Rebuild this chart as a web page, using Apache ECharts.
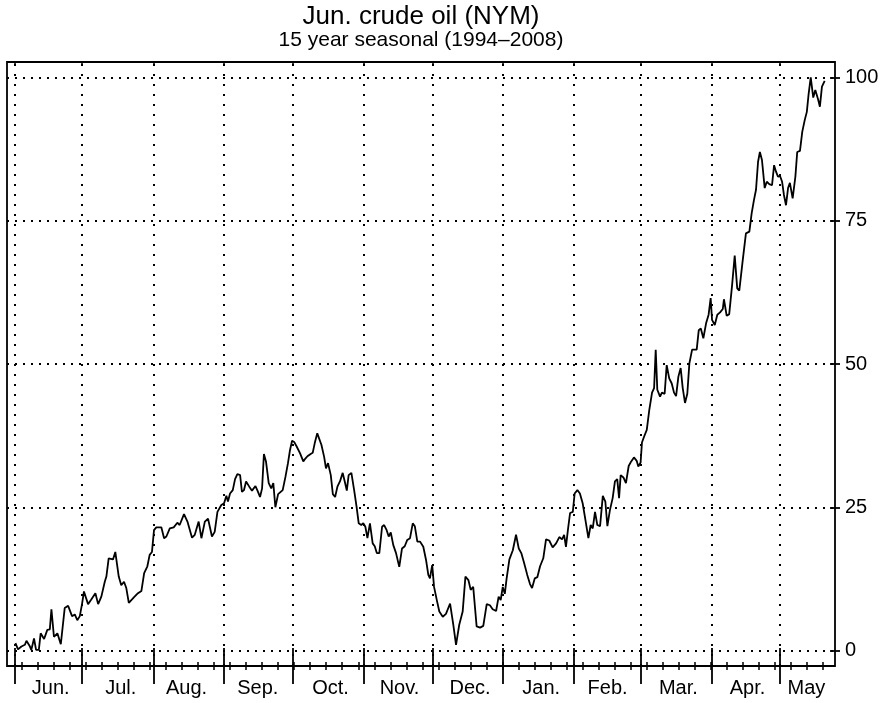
<!DOCTYPE html>
<html>
<head>
<meta charset="utf-8">
<script src="https://cdn.jsdelivr.net/npm/echarts@6/dist/echarts.min.js"></script>
<style>
html,body{margin:0;padding:0;background:#fff;}
#chart{width:887px;height:703px;}
</style>
</head>
<body>
<div id="chart"></div>
<script>
// x values are days since 1 Jun; y values are the seasonal index 0-100
const days = [
  0.4,1.5,3.0,4.5,5.2,6.6,7.3,8.5,9.4,10.6,
  11.4,12.9,14.3,15.4,16.1,17.2,18.7,20.2,21.9,23.4,
  25.1,26.3,27.4,28.5,29.5,30.3,32.1,33.5,35.3,36.5,
  37.9,39.4,40.1,41.1,43.0,44.0,45.5,46.6,47.8,48.8,
  49.9,50.7,52.2,53.9,55.4,56.6,58.0,59.0,60.0,60.9,
  61.9,64.1,65.3,66.3,67.8,69.5,71.1,72.1,74.0,75.5,
  77.5,78.7,80.4,81.6,83.1,84.5,86.2,87.4,88.6,90.3,
  91.5,92.5,93.2,
  94.1,95.3,96.3,97.3,98.5,99.3,100.2,101.1,102.5,103.7,
  105.2,106.0,107.2,108.1,108.9,109.8,111.0,112.1,113.0,113.9,
  115.1,115.9,117.1,118.3,119.4,120.3,121.2,122.1,123.2,124.7,
  126.1,127.0,127.9,129.3,130.2,131.1,132.2,134.0,135.2,136.0,
  136.9,138.1,139.0,140.0,141.0,142.1,143.3,144.2,145.1,145.9,
  147.1,148.3,149.4,150.3,151.4,152.3,153.2,154.1,155.2,156.4,
  157.3,158.2,159.3,160.5,161.4,162.5,163.4,164.3,165.4,166.6,
  168.0,169.2,170.4,171.5,172.7,173.9,174.8,175.9,177.1,
  178.5,179.7,180.7,181.4,182.4,183.2,184.4,185.5,187.0,188.4,
  190.2,191.6,192.8,194.2,195.7,196.9,198.2,199.2,200.3,201.8,
  203.3,204.7,206.2,207.6,208.8,210.3,211.4,212.3,213.2,214.1,
  214.9,216.1,217.6,219.0,220.2,221.3,222.5,223.9,225.1,226.0,
  227.2,228.3,229.5,230.9,232.1,233.5,235.0,236.5,237.9,239.1,
  240.0,240.8,241.7,242.6,243.8,244.6,245.8,246.9,248.1,249.3,
  250.6,251.6,252.5,253.5,254.5,255.7,256.9,258.0,258.9,260.0,
  261.2,262.2,263.2,264.0,264.7,265.9,267.0,268.2,269.3,270.5,
  271.7,272.4,
  273.4,274.0,274.9,276.1,277.2,278.4,279.3,280.0,280.7,281.9,
  282.7,283.9,284.8,285.9,287.0,288.0,288.9,289.9,290.9,291.8,
  292.8,293.8,294.7,295.9,296.7,297.9,298.8,299.7,300.8,302.0,
  303.1,304.0,304.6,305.8,306.9,308.1,309.3,309.8,311.0,312.1,
  313.3,314.5,315.6,316.5,
  318.0,319.4,320.9,321.9,322.9,323.8,324.7,325.5,326.4,327.6,
  328.5,329.6,330.8,331.7,332.5,333.4,334.3,335.2,336.0,336.9,
  337.8,338.6,339.8,341.0,341.8,343.0,344.0,345.1,346.0,346.8,
  347.7,348.8,349.7,350.9,351.7,352.6,353.8
];
const values = [
  1.3,0.2,0.7,1.0,1.7,0.8,0.1,2.1,0.1,0.1,
  3.0,2.0,3.6,3.7,7.2,2.4,3.0,1.1,7.4,7.8,
  6.0,6.3,5.3,6.0,8.2,10.3,8.1,8.9,10.0,8.1,
  9.4,12.0,12.9,16.1,15.9,17.2,12.9,11.4,12.0,10.9,
  8.3,8.2,9.3,10.0,10.4,13.5,14.7,16.7,17.2,21.0,
  21.5,21.5,19.6,19.9,21.3,21.5,22.3,21.9,23.8,22.5,
  19.7,20.2,22.5,19.6,22.5,23.0,19.9,20.7,24.2,25.4,
  25.7,27.0,26.0,
  27.4,28.0,29.9,30.8,30.6,27.7,28.0,29.5,28.6,27.9,
  28.7,28.0,26.8,28.3,34.3,33.0,29.2,28.3,29.2,25.0,
  27.3,27.5,28.0,30.3,32.7,35.0,36.6,36.4,35.6,34.4,
  33.0,33.5,33.9,34.3,34.5,36.2,37.9,35.9,33.8,31.8,
  32.7,30.6,27.3,26.8,28.6,29.5,31.0,29.5,27.9,30.6,
  31.0,28.0,25.0,22.2,21.9,22.2,21.6,19.6,22.2,18.7,
  18.2,17.0,17.0,21.6,21.9,21.0,19.9,20.6,18.4,17.0,
  14.6,17.8,18.2,19.3,19.6,22.2,21.7,19.0,19.0,
  18.1,15.8,13.2,12.6,14.9,11.1,8.8,6.8,5.9,6.4,
  8.2,4.5,1.0,4.5,6.8,12.9,12.3,10.6,11.1,4.2,
  4.0,4.3,8.1,7.9,7.2,6.9,9.4,8.8,11.1,9.9,
  12.6,15.9,17.5,20.2,17.8,17.0,15.3,13.2,11.6,10.9,
  12.6,12.8,14.7,16.1,19.4,19.2,18.0,18.7,19.8,19.4,
  20.2,18.1,21.2,24.0,24.2,27.4,28.0,27.4,25.7,22.8,
  19.6,21.9,21.3,24.2,21.9,21.7,27.0,26.0,21.7,24.5,
  26.6,29.5,29.9,26.6,30.6,30.2,29.2,32.2,33.0,33.7,
  33.1,32.1,
  32.8,36.3,37.3,38.5,42.0,45.0,45.8,52.5,45.5,44.3,
  45.0,44.8,49.8,47.5,46.6,45.0,44.4,47.8,49.3,45.8,
  43.2,44.8,50.1,52.5,52.7,52.5,55.9,56.2,54.5,57.1,
  58.6,61.5,57.7,56.8,58.6,59.0,59.6,61.3,58.4,58.7,
  63.5,68.9,63.2,62.8,
  68.1,72.8,73.1,76.3,78.6,80.4,85.3,87.0,85.6,80.7,
  81.8,81.4,81.2,84.7,83.6,82.7,82.8,81.8,79.5,77.7,
  80.7,81.6,78.9,82.7,87.0,87.2,90.5,92.6,94.0,97.2,
  100.0,96.5,97.8,96.2,94.9,98.4,99.4
];
const monthNames = ['Jun.','Jul.','Aug.','Sep.','Oct.','Nov.','Dec.','Jan.','Feb.','Mar.','Apr.','May'];
const monthStarts = [0.2,29.5,60.7,91.5,121.6,152.6,182.5,213.4,244.3,273.4,304.5,334.2];
const monthLabelAt = [15.8,46.4,75.1,106.2,138.0,168.1,198.9,230.0,259.0,289.9,320.1,345.8];
const firstWeekTick = 3.1;
const yTicks = [0,25,50,75,100];
const titleText = 'Jun. crude oil (NYM)';
const subtitleText = '15 year seasonal (1994\u20132008)';

const XMIN = -3.3, XMAX = 358.3, YMIN = -2.7, YMAX = 102.7;
const weekTicks = [];
for (let d = firstWeekTick; d < XMAX; d += 7) weekTicks.push(+d.toFixed(2));

const FONT = '"Liberation Sans", Arial, Helvetica, sans-serif';
const baseX = {
  type: 'value', gridIndex: 0, min: XMIN, max: XMAX,
  axisLine: {show: false, onZero: false}, splitLine: {show: false},
  axisLabel: {show: false}
};
function xAx(extra) { return Object.assign({}, baseX, extra); }

const chart = echarts.init(document.getElementById('chart'), null, {renderer: 'canvas'});
chart.setOption({
  animation: false,
  backgroundColor: '#fff',
  textStyle: {fontFamily: FONT, color: '#000'},
  grid: {left: 7, right: 52, top: 62, bottom: 37, show: true, borderColor: '#000', borderWidth: 1.8, backgroundColor: '#fff'},
  graphic: [
    {type: 'text', x: 421, y: 16.5, style: {text: titleText, fontSize: 26, fontFamily: FONT, fill: '#000', align: 'center', verticalAlign: 'middle'}},
    {type: 'text', x: 421, y: 40.5, style: {text: subtitleText, fontSize: 21, fontFamily: FONT, fill: '#000', align: 'center', verticalAlign: 'middle'}}
  ],
  xAxis: [
    xAx({position: 'bottom',
      axisTick: {show: true, inside: false, length: 18, customValues: monthStarts, lineStyle: {color: '#000', width: 1.8}},
      axisLabel: {show: true, customValues: monthLabelAt, margin: 12, fontSize: 20, fontFamily: FONT, color: '#000',
        formatter: function (v) { const i = monthLabelAt.indexOf(v); return i >= 0 ? monthNames[i] : ''; }}
    }),
    xAx({position: 'bottom', axisTick: {show: true, inside: true, length: 18, customValues: monthStarts, lineStyle: {color: '#000', width: 1.8}}}),
    xAx({position: 'bottom', axisTick: {show: true, inside: false, length: 4, customValues: weekTicks, lineStyle: {color: '#000', width: 1.5}}}),
    xAx({position: 'bottom', axisTick: {show: true, inside: true, length: 4, customValues: weekTicks, lineStyle: {color: '#000', width: 1.5}}}),
    xAx({position: 'top', axisTick: {show: true, inside: true, length: 3, customValues: monthStarts, lineStyle: {color: '#000', width: 1.5}}})
  ],
  yAxis: [
    {type: 'value', position: 'right', min: YMIN, max: YMAX,
      axisLine: {show: false, onZero: false}, splitLine: {show: false},
      axisTick: {show: true, inside: false, length: 5, customValues: yTicks, lineStyle: {color: '#000', width: 1.8}},
      axisLabel: {show: true, customValues: yTicks, margin: 10, fontSize: 20, fontFamily: FONT, color: '#000'}
    },
    {type: 'value', position: 'right', min: YMIN, max: YMAX,
      axisLine: {show: false, onZero: false}, splitLine: {show: false},
      axisTick: {show: true, inside: true, length: 5, customValues: yTicks, lineStyle: {color: '#000', width: 1.8}},
      axisLabel: {show: false}
    }
  ],
  series: [{
    type: 'line',
    xAxisIndex: 0, yAxisIndex: 0,
    data: days.map(function (d, i) { return [d, values[i]]; }),
    showSymbol: false,
    smooth: false,
    lineStyle: {color: '#000', width: 1.8},
    z: 5,
    markLine: {
      silent: true,
      symbol: ['none', 'none'],
      label: {show: false},
      lineStyle: {color: '#000', width: 2},
      emphasis: {disabled: true},
      data: monthStarts.map(function (m) { return {xAxis: m, lineStyle: {type: [2, 8], color: '#000', width: 2}}; })
        .concat(yTicks.map(function (v) { return {yAxis: v, lineStyle: {type: [2, 6], color: '#000', width: 2}}; }))
    }
  }]
});
</script>
</body>
</html>
